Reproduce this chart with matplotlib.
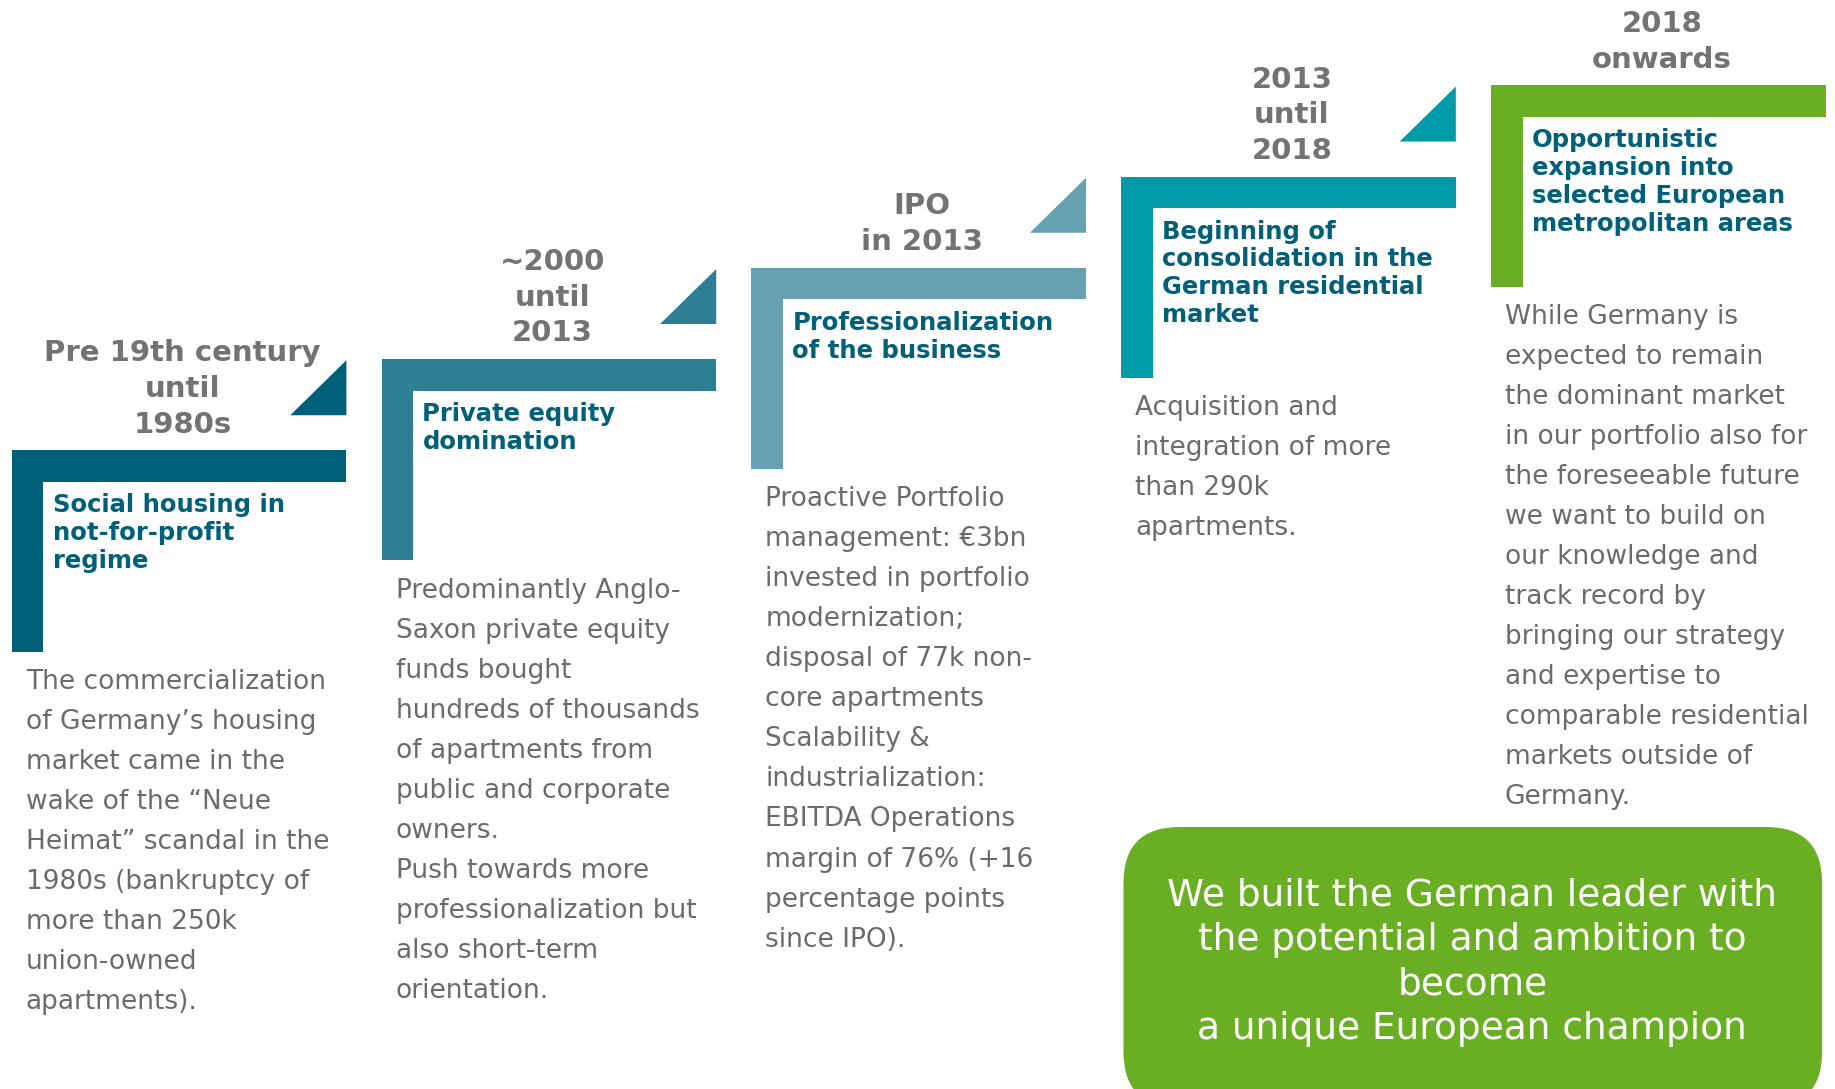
import matplotlib.pyplot as plt
from matplotlib.patches import Polygon, FancyBboxPatch

# phases of the timeline
periods = [
    ["Pre 19th century", "until", "1980s"],
    ["~2000", "until", "2013"],
    ["IPO", "in 2013"],
    ["2013", "until", "2018"],
    ["2018", "onwards"],
]
headlines = [
    ["Social housing in", "not-for-profit", "regime"],
    ["Private equity", "domination"],
    ["Professionalization", "of the business"],
    ["Beginning of", "consolidation in the", "German residential", "market"],
    ["Opportunistic", "expansion into", "selected European", "metropolitan areas"],
]
descriptions = [
    ["The commercialization", "of Germany\u2019s housing", "market came in the",
     "wake of the \u201cNeue", "Heimat\u201d scandal in the", "1980s (bankruptcy of",
     "more than 250k", "union-owned", "apartments)."],
    ["Predominantly Anglo-", "Saxon private equity", "funds bought",
     "hundreds of thousands", "of apartments from", "public and corporate",
     "owners.", "Push towards more", "professionalization but",
     "also short-term", "orientation."],
    ["Proactive Portfolio", "management: \u20ac3bn", "invested in portfolio",
     "modernization;", "disposal of 77k non-", "core apartments",
     "Scalability &", "industrialization:", "EBITDA Operations",
     "margin of 76% (+16", "percentage points", "since IPO)."],
    ["Acquisition and", "integration of more", "than 290k", "apartments."],
    ["While Germany is", "expected to remain", "the dominant market",
     "in our portfolio also for", "the foreseeable future", "we want to build on",
     "our knowledge and", "track record by", "bringing our strategy",
     "and expertise to", "comparable residential", "markets outside of",
     "Germany."],
]
colors = ["#00607A", "#2E7F94", "#66A1B1", "#009BA9", "#6AAF23"]
summary = ["We built the German leader with", "the potential and ambition to",
           "become", "a unique European champion"]

GRAY = "#737373"
BODY = "#6B6B6B"
TEAL = "#00607A"

fig = plt.figure(figsize=(18.35, 10.89), dpi=100)
ax = fig.add_axes([0, 0, 1, 1])
ax.set_xlim(0, 1568)
ax.set_ylim(931, 0)
ax.axis("off")

W, H, T = 286, 172, 27   # bracket width, height, bar thickness
for i in range(5):
    x0 = 10 + 316 * i
    y0 = 385 - 78 * i
    c = colors[i]
    # L-shaped bracket
    ax.add_patch(Polygon([(x0, y0), (x0 + W, y0), (x0 + W, y0 + T), (x0 + T, y0 + T),
                          (x0 + T, y0 + H), (x0, y0 + H)], closed=True, color=c, lw=0))
    # step triangle
    if i < 4:
        ax.add_patch(Polygon([(x0 + W - 48, y0 - 30), (x0 + W, y0 - 77), (x0 + W, y0 - 30)],
                             closed=True, color=c, lw=0))
    # period label
    n = len(periods[i])
    for k, line in enumerate(periods[i]):
        y = y0 - 22 - 30.5 * (n - 1 - k)
        ax.text(x0 + 146, y, line, ha="center", va="center", fontsize=21,
                fontweight="bold", color=GRAY, family="DejaVu Sans")
    # headline
    for k, line in enumerate(headlines[i]):
        ax.text(x0 + 35, y0 + 47 + 23.7 * k, line, ha="left", va="center", fontsize=17.5,
                fontweight="bold", color=TEAL, family="DejaVu Sans")
    # description
    for k, line in enumerate(descriptions[i]):
        ax.text(x0 + 12, y0 + H + 26 + 34.2 * k, line, ha="left", va="center",
                fontsize=19, color=BODY, family="DejaVu Sans")

# summary box
ax.add_patch(FancyBboxPatch((960, 707), 597, 240,
                            boxstyle="round,pad=0,rounding_size=48",
                            facecolor="#6AAF23", edgecolor="none"))
for k, line in enumerate(summary):
    ax.text(1258, 766 + 38 * k, line, ha="center", va="center", fontsize=27,
            color="white", family="DejaVu Sans")

fig.savefig("out.png", dpi=100)
